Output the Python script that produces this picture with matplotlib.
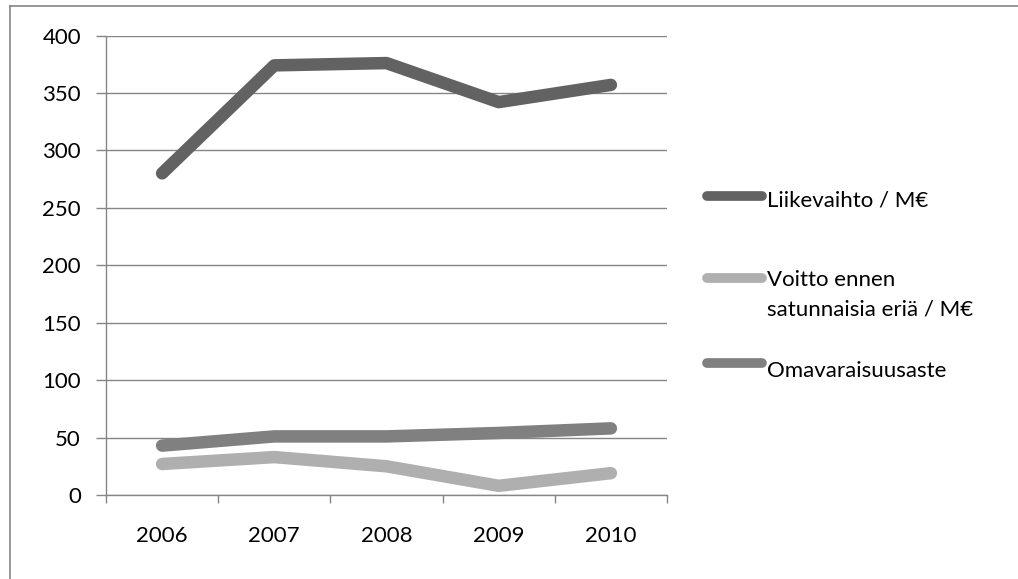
import matplotlib.pyplot as plt
from matplotlib.lines import Line2D

# ---- data ----
years = ["2006", "2007", "2008", "2009", "2010"]
liikevaihto = [280, 374, 376, 342, 357]
voitto = [27, 33, 25, 8, 19]
omavaraisuus = [43, 51, 51, 54, 58]

series_labels = ["Liikevaihto / M€", "Voitto ennen\nsatunnaisia eriä / M€", "Omavaraisuusaste"]
series_colors = ["#626262", "#afafaf", "#808080"]
y_ticks = [0, 50, 100, 150, 200, 250, 300, 350, 400]

W, H = 1018, 579
FS = 16
plt.rcParams["font.family"] = ["Lato", "DejaVu Sans"]
fig = plt.figure(figsize=(W / 100, H / 100), dpi=100)

ax = fig.add_axes([106 / W, (H - 495) / H, (667 - 106) / W, (495 - 35.5) / H])

x = list(range(len(years)))
lw = 9.0
for vals, col in zip([liikevaihto, voitto, omavaraisuus], series_colors):
    ax.plot(x, vals, color=col, linewidth=lw, solid_capstyle="round",
            solid_joinstyle="round", zorder=3)

grid_col = "#868686"
ax.set_xlim(-0.5, len(years) - 0.5)
ax.set_ylim(0, 400)
ax.set_yticks(y_ticks)
ax.set_yticklabels([str(v) for v in y_ticks], fontsize=FS)
ax.yaxis.grid(True, color=grid_col, linewidth=1.0)
ax.set_axisbelow(True)

# category ticks sit between the years, labels at the centres
ax.set_xticks([i - 0.5 for i in range(len(years) + 1)])
ax.set_xticklabels([])
ax.set_xticks(x, minor=True)
ax.set_xticklabels(years, minor=True, fontsize=FS)
ax.tick_params(axis="x", which="minor", length=0, pad=22)
ax.tick_params(axis="x", which="major", length=6, color=grid_col, width=1)
ax.tick_params(axis="y", length=7, color=grid_col, width=1, pad=11)

for side in ["top", "right"]:
    ax.spines[side].set_visible(False)
for side in ["left", "bottom"]:
    ax.spines[side].set_color(grid_col)
    ax.spines[side].set_linewidth(1.0)


def px(xp, yp):
    return xp / W, 1 - yp / H


# ---- legend drawn by hand (handle aligned with first text line) ----
legend_line_y = [196, 278, 363]
legend_base_y = [207, 286, 377]
for lab, col, ly, by in zip(series_labels, series_colors, legend_line_y, legend_base_y):
    (x0, y0), (x1, _) = px(707, ly), px(762, ly)
    fig.add_artist(Line2D([x0, x1], [y0, y0], color=col, linewidth=7.0,
                          solid_capstyle="round"))
    for i, part in enumerate(lab.split("\n")):
        tx, ty = px(767, by + 30 * i)
        fig.text(tx, ty, part, fontsize=FS, va="baseline", ha="left", color="black")

# ---- outer chart frame ----
fig.add_artist(Line2D([10 / W, 1], [1 - 6 / H, 1 - 6 / H], color=grid_col, linewidth=1.2))
fig.add_artist(Line2D([10 / W, 10 / W], [0, 1 - 6 / H], color=grid_col, linewidth=1.2))

fig.savefig("out.png", dpi=100)
